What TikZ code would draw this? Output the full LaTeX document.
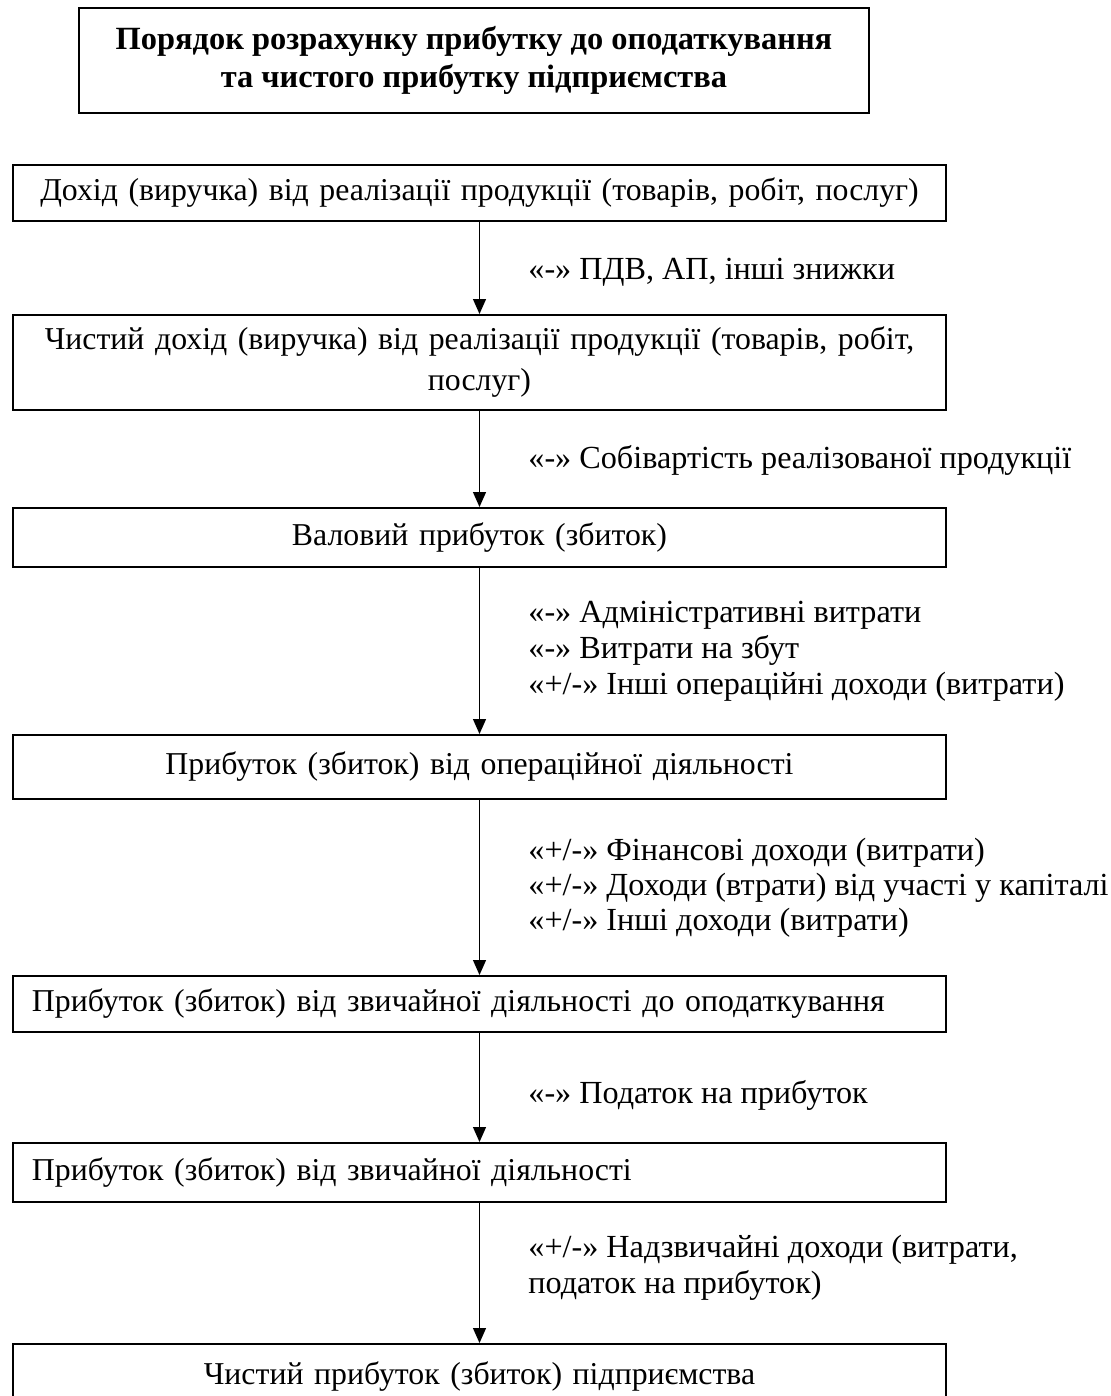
\documentclass[tikz,border=0pt]{standalone}
\usepackage{fontspec}
\setmainfont{Liberation Serif}
\usetikzlibrary{arrows.meta}

\begin{document}
\begin{tikzpicture}[x=0.5pt, y=-0.5pt,
    stage/.style={draw, line width=1pt, minimum width=466.5pt,
        text width=447.5pt, inner xsep=9.5pt, inner ysep=0pt, align=center,
        font=\fontsize{15.9}{20.5}\selectfont},
    note/.style={anchor=west, inner sep=0pt, align=left,
        font=\fontsize{16.1}{18}\selectfont},
    flow/.style={-{Triangle[length=7.5pt, width=6.5pt]}, line width=0.6pt}]

    \useasboundingbox (0,0) rectangle (1111,1396);

    % HEADING
    \node[draw, line width=1pt, minimum width=395pt, minimum height=52.5pt,
        align=center, font=\bfseries\fontsize{16.2}{19}\selectfont]
        (heading) at (474,60.5)
        {Порядок розрахунку прибутку до оподаткування\\
         та чистого прибутку підприємства};

    % STAGES OF THE CALCULATION
    \node[stage, minimum height=28pt] (revenue) at (479.5,193)
        {Дохід (виручка) від реалізації продукції (товарів, робіт, послуг)};
    \node[stage, minimum height=47.5pt] (netrevenue) at (479.5,362.5)
        {Чистий дохід (виручка) від реалізації продукції (товарів, робіт,\\
         послуг)};
    \node[stage, minimum height=29.5pt] (gross) at (479.5,537.5)
        {Валовий прибуток (збиток)};
    \node[stage, minimum height=32pt] (operating) at (479.5,767)
        {Прибуток (збиток) від операційної діяльності};
    \node[stage, minimum height=28pt, align=left] (pretax) at (479.5,1004)
        {Прибуток (збиток) від звичайної діяльності до оподаткування};
    \node[stage, minimum height=29.5pt, align=left] (ordinary) at (479.5,1172.5)
        {Прибуток (збиток) від звичайної діяльності};
    \node[stage, minimum height=33pt] (netprofit) at (479.5,1377)
        {Чистий прибуток (збиток) підприємства};

    % ADJUSTMENTS BETWEEN STAGES
    \node[note] (vat) at (528,272)
        {«-» ПДВ, АП, інші знижки};
    \node[note] (cost) at (528,460)
        {«-» Собівартість реалізованої продукції};
    \node[note] (opcost) at (528,651)
        {«-» Адміністративні витрати\\
         «-» Витрати на збут\\
         «+/-» Інші операційні доходи (витрати)};
    \node[note, font=\fontsize{16.1}{17.5}\selectfont] (finance) at (528,888)
        {«+/-» Фінансові доходи (витрати)\\
         «+/-» Доходи (втрати) від участі у капіталі\\
         «+/-» Інші доходи (витрати)};
    \node[note] (tax) at (528,1095)
        {«-» Податок на прибуток};
    \node[note] (extra) at (528,1267.5)
        {«+/-» Надзвичайні доходи (витрати,\\
         податок на прибуток)};

    % FLOW
    \draw[flow] (revenue) -- (netrevenue);
    \draw[flow] (netrevenue) -- (gross);
    \draw[flow] (gross) -- (operating);
    \draw[flow] (operating) -- (pretax);
    \draw[flow] (pretax) -- (ordinary);
    \draw[flow] (ordinary) -- (netprofit);

\end{tikzpicture}
\end{document}
